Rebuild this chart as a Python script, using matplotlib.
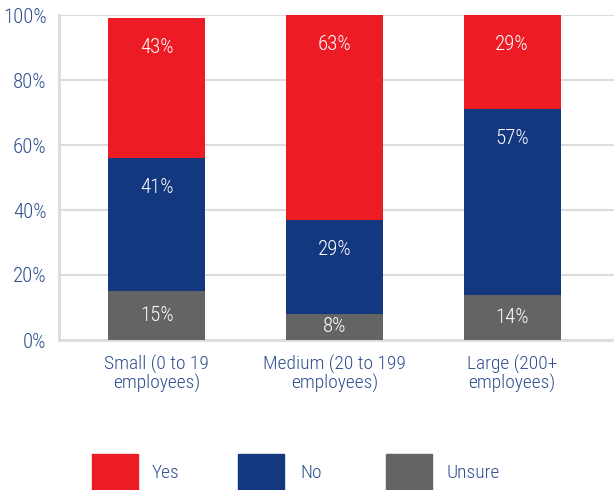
import matplotlib.pyplot as plt
from matplotlib.patches import Rectangle

categories = ["Small (0 to 19\nemployees)", "Medium (20 to 199\nemployees)", "Large (200+\nemployees)"]
series_names = ["Unsure", "No", "Yes"]
unsure = [15, 8, 14]
no = [41, 29, 57]
yes = [43, 63, 29]
y_ticks = [0, 20, 40, 60, 80, 100]
y_tick_labels = ["0%", "20%", "40%", "60%", "80%", "100%"]

colors = {"Yes": "#ED1C24", "No": "#14387F", "Unsure": "#646464"}
text_blue = "#2F4F8F"
grid_gray = "#DCDCDC"

plt.rcParams['font.family'] = ['Roboto Condensed', 'DejaVu Sans']
plt.rcParams['font.weight'] = 300

fig = plt.figure(figsize=(6.14, 4.9), dpi=100)
ax = fig.add_axes([59 / 614, (490 - 340) / 490, 1 - 59 / 614, 325 / 490])

x = range(len(categories))
width = 0.545
bottoms = [0] * len(categories)
for name, vals in zip(series_names, [unsure, no, yes]):
    ax.bar(x, vals, width=width, bottom=bottoms, color=colors[name], zorder=3)
    for i, v in enumerate(vals):
        top = bottoms[i] + v
        ypos = max(top - 9, bottoms[i] + v / 2)
        ax.text(i, ypos, f"{v}%", ha="center", va="center", color="white",
                fontsize=15, zorder=4)
    bottoms = [b + v for b, v in zip(bottoms, vals)]

ax.set_xlim(-98 / 178, 2 + 102 / 178)
ax.set_ylim(0, 100)
ax.set_yticks(y_ticks)
ax.set_yticklabels(y_tick_labels, color=text_blue, fontsize=15)
ax.set_xticks(list(x))
ax.set_xticklabels(categories, color=text_blue, fontsize=14, linespacing=1.0)
ax.tick_params(length=0, pad=9)
ax.tick_params(axis="x", pad=11)
ax.yaxis.grid(True, color=grid_gray, linewidth=1.5, zorder=0)
for side in ["top", "right"]:
    ax.spines[side].set_visible(False)
for side in ["left", "bottom"]:
    ax.spines[side].set_color(grid_gray)
    ax.spines[side].set_linewidth(2)

# legend drawn by hand along the bottom edge
legend_items = [("Yes", 92, 152), ("No", 238, 300), ("Unsure", 386, 447)]
for name, px, tx in legend_items:
    fig.patches.append(Rectangle((px / 614, 0), 46 / 614, 36 / 490,
                                 transform=fig.transFigure, color=colors[name]))
    fig.text(tx / 614, (490 - 473) / 490, name, color=text_blue, fontsize=14,
             va="center", ha="left")

fig.savefig("out.png", dpi=100)
